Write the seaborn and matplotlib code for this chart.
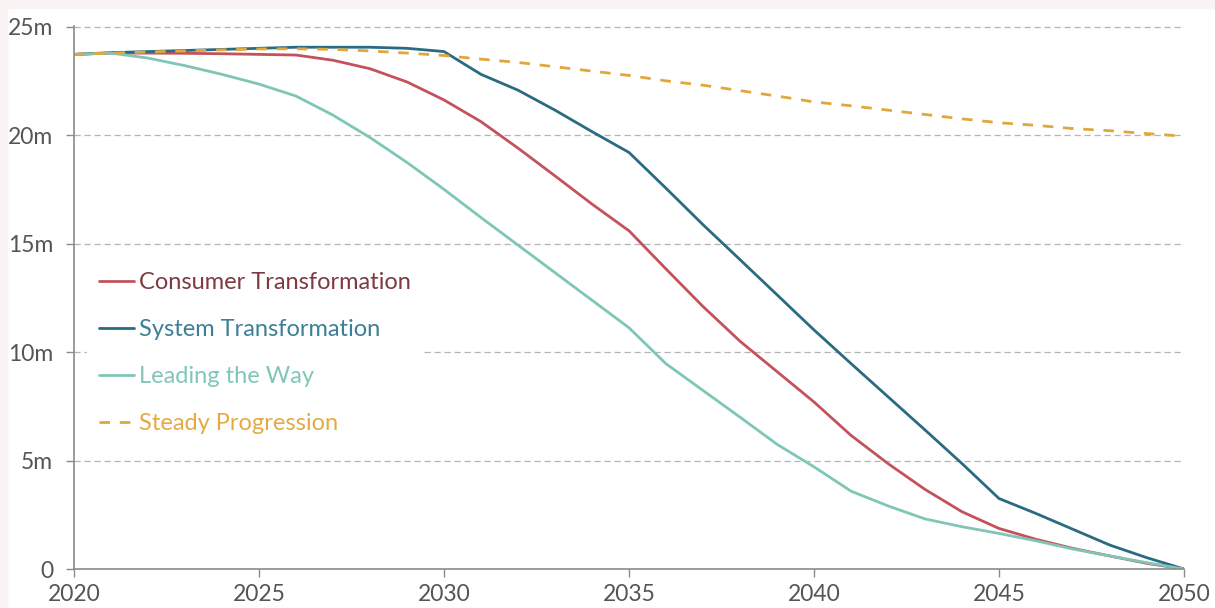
# Heat pump / boiler stock chart - four scenarios, 2020-2050
import pandas as pd
import matplotlib
matplotlib.use("Agg")
import matplotlib.pyplot as plt
import seaborn as sns

# Data (millions)
years = list(range(2020, 2051))

consumer = [23.72, 23.78, 23.78, 23.77, 23.75, 23.72, 23.69, 23.45, 23.06, 22.45,
            21.62, 20.62, 19.4, 18.12, 16.82, 15.59, 13.83, 12.1, 10.5, 9.1,
            7.7, 6.16, 4.86, 3.67, 2.64, 1.87, 1.37, 0.95, 0.6, 0.26, 0.0]
system = [23.72, 23.8, 23.85, 23.9, 23.95, 24.0, 24.05, 24.05, 24.05, 24.0,
          23.85, 22.8, 22.07, 21.15, 20.16, 19.2, 17.55, 15.87, 14.26, 12.64,
          11.02, 9.47, 7.94, 6.41, 4.86, 3.25, 2.56, 1.83, 1.1, 0.52, 0.0]
leading = [23.72, 23.78, 23.55, 23.2, 22.8, 22.35, 21.8, 20.92, 19.89, 18.74,
           17.5, 16.2, 14.93, 13.66, 12.39, 11.12, 9.46, 8.23, 7.0, 5.75,
           4.71, 3.59, 2.91, 2.31, 1.95, 1.64, 1.3, 0.92, 0.6, 0.29, 0.0]
steady = [23.72, 23.78, 23.83, 23.88, 23.93, 23.97, 23.98, 23.95, 23.88, 23.78,
          23.67, 23.5, 23.35, 23.15, 22.95, 22.75, 22.5, 22.3, 22.05, 21.8,
          21.53, 21.35, 21.15, 20.95, 20.75, 20.57, 20.45, 20.3, 20.2, 20.07, 19.95]

scenarios = ["Consumer Transformation", "System Transformation",
             "Leading the Way", "Steady Progression"]
line_colors = ["#c4525c", "#2a6b82", "#7fc6b6", "#e2a73c"]
text_colors = ["#7e3a40", "#3d7f96", "#80c7b7", "#e5aa45"]

x_ticks = [2020, 2025, 2030, 2035, 2040, 2045, 2050]
y_ticks = [0, 5, 10, 15, 20, 25]
y_labels = ["0", "5m", "10m", "15m", "20m", "25m"]

# long-form table for seaborn
df = pd.concat([
    pd.DataFrame({"year": years, "value": vals, "scenario": name})
    for name, vals in zip(scenarios, [consumer, system, leading, steady])
])

sns.set_style("white")
plt.rcParams["font.family"] = ["Lato", "DejaVu Sans"]

fig = plt.figure(figsize=(12.15, 6.08), dpi=100)
fig.patch.set_facecolor("white")
# light pink border strips (top and left) as in the reference
fig.patches.append(plt.Rectangle((0, 0.987), 1, 0.013, transform=fig.transFigure,
                                 color="#f9f4f3", zorder=0))
fig.patches.append(plt.Rectangle((0, 0), 0.006, 1, transform=fig.transFigure,
                                 color="#f9f4f3", zorder=0))

ax = fig.add_axes([0.0609, 0.0641, 0.9136, 0.8939])

sns.lineplot(data=df, x="year", y="value", hue="scenario", style="scenario",
             palette=dict(zip(scenarios, line_colors)),
             dashes={scenarios[0]: "", scenarios[1]: "", scenarios[2]: "",
                     scenarios[3]: (3.8, 3.5)},
             linewidth=2, ax=ax, legend=False)

ax.set_xlim(2020, 2050)
ax.set_ylim(0, 25.05)
ax.set_xticks(x_ticks)
ax.set_yticks(y_ticks)
ax.set_yticklabels(y_labels)
ax.set_xlabel("")
ax.set_ylabel("")

# grid: dashed, only at 5..25
for v in y_ticks[1:]:
    ax.axhline(v, color="#b5b5b5", lw=0.9, ls=(0, (5, 3)), zorder=0.5)

for side in ["top", "right"]:
    ax.spines[side].set_visible(False)
for side in ["left", "bottom"]:
    ax.spines[side].set_color("#8a8a8a")
    ax.spines[side].set_linewidth(1.2)

ax.tick_params(axis="both", length=6, width=1, color="#8a8a8a",
               labelcolor="#555555", labelsize=16.5)
ax.tick_params(axis="y", pad=9, left=True)
ax.tick_params(axis="x", pad=5, bottom=True)

# legend
handles = []
for name, c in zip(scenarios, line_colors):
    ls = (0, (3.8, 3.5)) if name == "Steady Progression" else "-"
    handles.append(plt.Line2D([], [], color=c, lw=2, ls=ls))
leg = ax.legend(handles, scenarios, loc="upper left", bbox_to_anchor=(0.001, 0.59),
                frameon=True, facecolor="white", edgecolor="none", framealpha=1,
                fontsize=17, handlelength=1.5, handletextpad=0.2,
                labelspacing=1.1, borderpad=0.5)
for t, c in zip(leg.get_texts(), text_colors):
    t.set_color(c)

fig.savefig("out.png", dpi=100)
